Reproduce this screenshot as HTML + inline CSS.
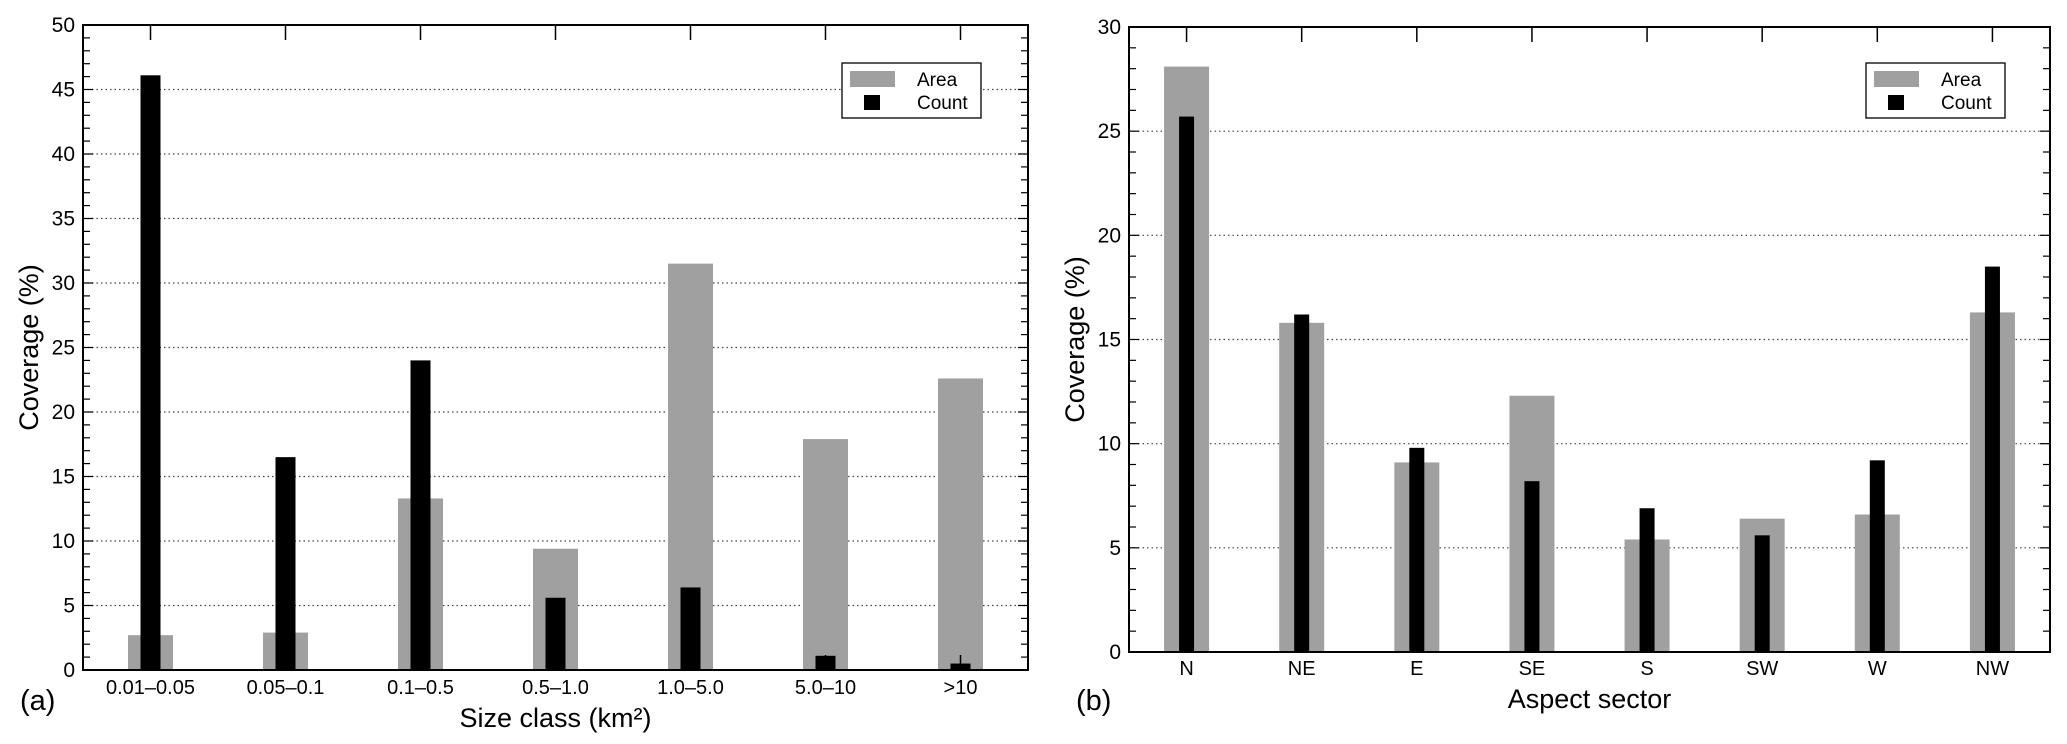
<!DOCTYPE html>
<html><head><meta charset="utf-8"><style>
body{margin:0;background:#fff;}
svg{display:block;font-family:"Liberation Sans",Arial,sans-serif;}
</style></head><body>
<svg id="chart" width="2067" height="744" viewBox="0 0 2067 744" xmlns="http://www.w3.org/2000/svg"></svg>
<script>
const catsA = ["0.01\u20130.05","0.05\u20130.1","0.1\u20130.5","0.5\u20131.0","1.0\u20135.0","5.0\u201310",">10"];
const areaA = [2.7, 2.9, 13.3, 9.4, 31.5, 17.9, 22.6];
const countA = [46.1, 16.5, 24.0, 5.6, 6.4, 1.1, 0.5];
const yTicksA = [0,5,10,15,20,25,30,35,40,45,50];

const catsB = ["N","NE","E","SE","S","SW","W","NW"];
const areaB = [28.1, 15.8, 9.1, 12.3, 5.4, 6.4, 6.6, 16.3];
const countB = [25.7, 16.2, 9.8, 8.2, 6.9, 5.6, 9.2, 18.5];
const yTicksB = [0,5,10,15,20,25,30];

const NS="http://www.w3.org/2000/svg";
const svg=document.getElementById('chart');
function mk(tag,attrs,parent,text){const e=document.createElementNS(NS,tag);for(const k in attrs)e.setAttribute(k,attrs[k]);if(text!==undefined)e.textContent=text;(parent||svg).appendChild(e);return e;}

function panel(o){
  const g=mk('g',{});
  
  
  const {L,R,T,B,ymax,cats,area,count,ticks,gw,bw}=o;
  const y=v=>B-(v/ymax)*(B-T);
  const slot=(R-L)/cats.length;
  const xc=i=>L+slot*(i+0.5);
  ticks.forEach(t=>{ if(t>0&&t<ymax){ const l=mk('line',{x1:L,x2:R,y1:y(t),y2:y(t),stroke:'#444','stroke-width':1.2,'stroke-dasharray':'1.5 3'},g);
      }});
  cats.forEach((c,i)=>{
    const a=mk('rect',{x:xc(i)-gw/2,y:y(area[i]),width:gw,height:B-y(area[i]),fill:'#a0a0a0'},g);
    
    
    const k=mk('rect',{x:xc(i)-bw/2,y:y(count[i]),width:bw,height:B-y(count[i]),fill:'#000'},g);
    
    
    const tl=mk('text',{x:xc(i),y:o.tickLabelY,'font-size':20,'text-anchor':'middle'},g,c);
    
    
    mk('line',{x1:xc(i),x2:xc(i),y1:T,y2:T+15,stroke:'#000','stroke-width':1.5},g);
    mk('line',{x1:xc(i),x2:xc(i),y1:B,y2:B-15,stroke:'#000','stroke-width':1.5},g);
  });
  for(let v=0;v<=ymax;v++){ const len=(v%5===0)?10:7;
    mk('line',{x1:L,x2:L+len,y1:y(v),y2:y(v),stroke:'#000','stroke-width':1.2},g);
    mk('line',{x1:R,x2:R-len,y1:y(v),y2:y(v),stroke:'#000','stroke-width':1.2},g);}
  ticks.forEach(t=>{ const tl=mk('text',{x:L-8,y:y(t)+7,'font-size':21,'text-anchor':'end'},g,String(t));
     });
  const fr=mk('rect',{x:L,y:T,width:R-L,height:B-T,fill:'none',stroke:'#000','stroke-width':2},g);
   
  const lg=mk('g',{},g);
   
  const lx=o.legX, ly=63;
  mk('rect',{x:lx,y:ly,width:139,height:55,fill:'#fff',stroke:'#000','stroke-width':1.3},lg);
  mk('rect',{x:lx+8,y:ly+8,width:45,height:16,fill:'#a0a0a0'},lg);
  mk('rect',{x:lx+22,y:ly+32,width:16,height:15,fill:'#000'},lg);
  const t1=mk('text',{x:lx+75,y:ly+23,'font-size':19},lg,'Area');
   
  const t2=mk('text',{x:lx+75,y:ly+46,'font-size':19},lg,'Count');
   
  const yt=mk('text',{x:0,y:0,'font-size':27,'text-anchor':'middle',transform:`translate(${o.ytX},${(T+B)/2}) rotate(-90)`},g,'Coverage (%)');
   
  const xt=mk('text',{x:(L+R)/2,y:o.xtY,'font-size':27,'text-anchor':'middle'},g,o.xtitle);
   
  const pl=mk('text',{x:o.plX,y:o.plY,'font-size':29},g,o.plabel);
   
}
panel({name:'panel-a-size-class',L:83,R:1028,T:25,B:670,ymax:50,cats:catsA,area:areaA,count:countA,ticks:yTicksA,gw:45,bw:20,
  tickLabelY:694,legX:842,ytX:38,xtY:727,xtitle:'Size class (km\u00b2)',plX:20,plY:710,plabel:'(a)'});
panel({name:'panel-b-aspect-sector',L:1129,R:2050,T:27,B:652,ymax:30,cats:catsB,area:areaB,count:countB,ticks:yTicksB,gw:45,bw:15,
  tickLabelY:675,legX:1866,ytX:1084,xtY:708,xtitle:'Aspect sector',plX:1076,plY:710,plabel:'(b)'});
</script>
</body></html>
